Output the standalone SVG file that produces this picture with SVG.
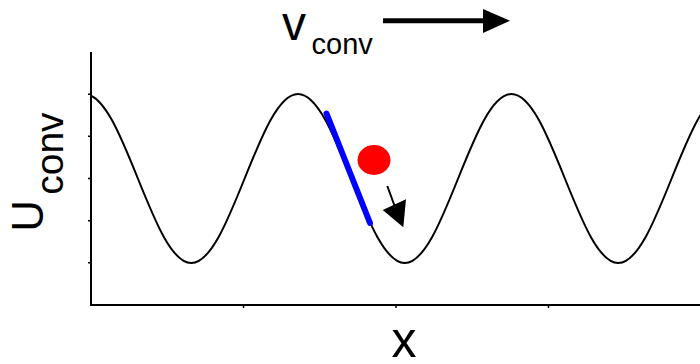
<svg xmlns="http://www.w3.org/2000/svg" width="700" height="364" viewBox="0 0 700 364">
<style>
.ax{stroke:#000;stroke-width:2;fill:none}
.tk{stroke:#000;stroke-width:1.5}
.lbl{font-family:"Liberation Sans",Arial,sans-serif;fill:#000}
</style>
<defs>
<clipPath id="plot"><rect x="91" y="0" width="609" height="364"/></clipPath>
</defs>
<rect width="700" height="364" fill="#fff"/>
<g id="axes">
<path class="ax" d="M91,52 V305 H700"/>
<path class="tk" d="M91,94.2h-3M91,136.3h-3M91,178.5h-3M91,220.7h-3M91,262.8h-3M243.5,305v3M396,305v3M548.5,305v3"/>
</g>
<g id="curve" clip-path="url(#plot)">
<path class="ax" d="M84.5,94 C103.82,94 120.47,135.21 137.875,178.5 C155.29,221.79 171.94,263 191.25,263 C210.57,263 227.22,221.79 244.625,178.5 C262.04,135.21 278.69,94 298,94 C317.32,94 333.97,135.21 351.375,178.5 C368.79,221.79 385.44,263 404.75,263 C424.07,263 440.72,221.79 458.125,178.5 C475.54,135.21 492.19,94 511.5,94 C530.82,94 547.47,135.21 564.875,178.5 C582.29,221.79 598.94,263 618.25,263 C637.57,263 654.22,221.79 671.625,178.5 C689.04,135.21 705.69,94 725,94"/>
</g>
<g id="slope">
<line x1="326.5" y1="113.5" x2="370" y2="223" stroke="#0000ff" stroke-width="6" stroke-linecap="round"/>
</g>
<g id="particle">
<ellipse cx="374" cy="160" rx="16.5" ry="15" fill="#ff0000"/>
</g>
<g id="connectors">
<line x1="387.3" y1="186" x2="395" y2="207" stroke="#000" stroke-width="2"/>
<polygon points="382.7,210 406,199.3 403.3,227.3" fill="#000"/>
<line x1="383" y1="20.7" x2="486" y2="20.7" stroke="#000" stroke-width="5"/>
<polygon points="483,9 483,33 510,20.7" fill="#000"/>
</g>
<g id="labels">
<text class="lbl" x="282" y="40" font-size="48">v</text>
<text class="lbl" x="311.5" y="54" font-size="29">conv</text>
<text class="lbl" font-size="44" transform="translate(43.3,231.8) rotate(-90)">U</text>
<text class="lbl" font-size="39" transform="translate(63.3,194.8) rotate(-90)">conv</text>
<text class="lbl" x="404" y="357" font-size="50" text-anchor="middle">x</text>
</g>
</svg>
